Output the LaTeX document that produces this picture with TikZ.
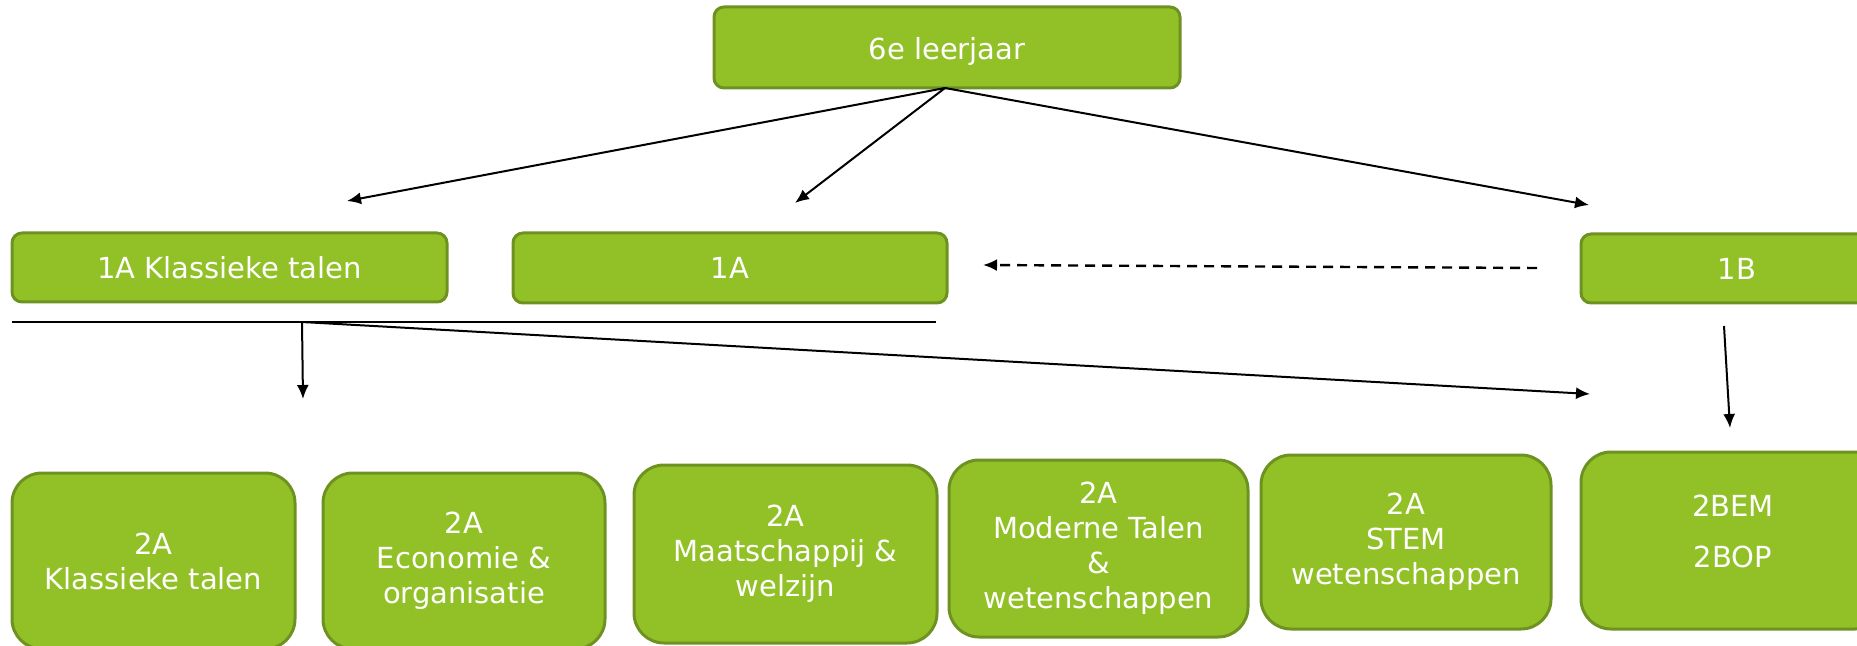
\documentclass[tikz,border=0pt]{standalone}
\usepackage{fontspec}
\setmainfont{DejaVu Sans}
\usetikzlibrary{arrows.meta}
\definecolor{boxfill}{HTML}{92C127}
\definecolor{boxline}{HTML}{6E9222}
\begin{document}
\begin{tikzpicture}[x=0.5pt,y=-0.5pt,
  gbox/.style={draw=boxline,fill=boxfill,line width=1.5pt,rounded corners=5pt,
    text=white,font=\fontsize{14.5}{17.5}\selectfont,align=center,inner sep=0pt},
  bbox/.style={gbox,rounded corners=15pt},
  conn/.style={line width=1pt,-{Latex[length=7pt,width=6pt]}},
  plain/.style={line width=1pt}]
\useasboundingbox (0,0) rectangle (1857,646);
% top
\node[gbox,minimum width=233pt,minimum height=40.5pt] (top) at (947,47.5) {\raisebox{-6pt}[0pt][0pt]{6e leerjaar}};
% first row
\node[gbox,minimum width=217.5pt,minimum height=34.5pt] (kt) at (229.5,267.5) {1A Klassieke talen};
\node[gbox,minimum width=217pt,minimum height=35pt] (a1) at (730,268) {1A};
\node[gbox,minimum width=156pt,minimum height=34.5pt] (b1) at (1737,268.5) {1B};
% bottom row
\node[bbox,minimum width=141.5pt,minimum height=88pt] (c1) at (153.5,561) {2A\\Klassieke talen};
\node[bbox,minimum width=141pt,minimum height=88pt] (c2) at (464,561) {2A\\Economie \&\\organisatie};
\node[bbox,minimum width=151.5pt,minimum height=89pt] (c3) at (785.5,554) {2A\\Maatschappij \&\\welzijn};
\node[bbox,minimum width=149.5pt,minimum height=88.5pt] (c4) at (1098.5,548.5) {2A\\Moderne Talen\\\&\\wetenschappen};
\node[bbox,minimum width=145pt,minimum height=87pt] (c5) at (1406,542) {2A\\STEM\\wetenschappen};
\node[bbox,minimum width=152pt,minimum height=88.5pt] (c6) at (1733,540.5) {\raisebox{-1pt}[0pt][0pt]{\begin{tabular}{@{}c@{}}2BEM\\[8pt]2BOP\end{tabular}}};
% free ends
\coordinate (tp) at (945,88);
\coordinate (e1) at (347,201);
\coordinate (e2) at (795,203);
\coordinate (e3) at (1589,205);
\coordinate (hl1) at (12,322);
\coordinate (hl2) at (936,322);
\coordinate (br) at (302,322);
\coordinate (d1) at (303,399);
\coordinate (d2) at (1590,394);
\coordinate (s1) at (1724,326);
\coordinate (s2) at (1730,428);
\coordinate (ds) at (1537,268);
\coordinate (de) at (983,265);
% connectors
\draw[conn] (tp) -- (e1);
\draw[conn] (tp) -- (e2);
\draw[conn] (tp) -- (e3);
\draw[plain] (hl1) -- (hl2);
\draw[conn] (br) -- (d1);
\draw[conn] (br) -- (d2);
\draw[conn] (s1) -- (s2);
\draw[conn,dashed,dash pattern=on 5pt off 3.5pt,line width=1.2pt] (ds) -- (de);
\end{tikzpicture}
\end{document}
